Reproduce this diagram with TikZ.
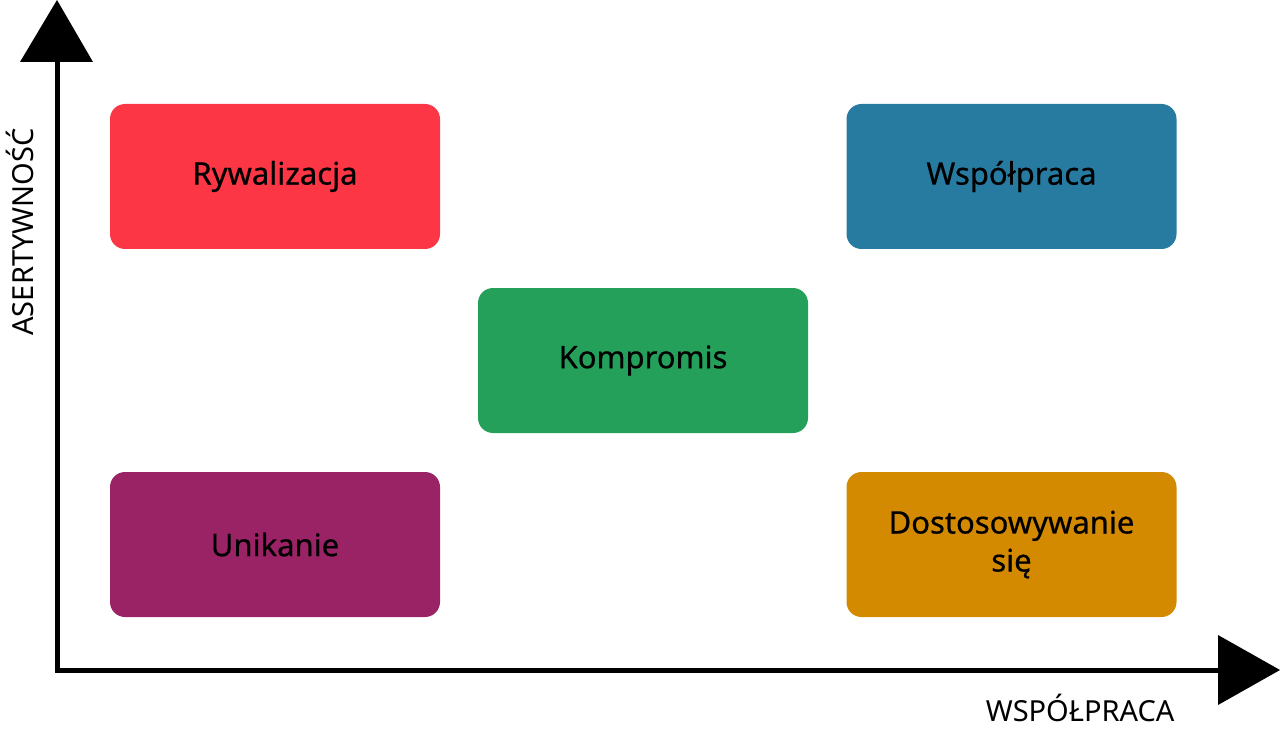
\documentclass[tikz,border=0pt]{standalone}
\usepackage{fontspec}
\setmainfont{Noto Sans}
\begin{document}
\begin{tikzpicture}[x=1pt,y=-1pt,
 box/.style={rounded corners=15pt,inner sep=0pt,minimum width=330pt,minimum height=145pt,align=center,font=\fontsize{31}{38}\selectfont\addfontfeature{FakeBold=0.6}},
 ax/.style={line width=5pt},
 lab/.style={font=\fontsize{29}{34}\selectfont\bfseries}]
\useasboundingbox (0,0) rectangle (1280,730);
\coordinate (o) at (57,670);
\coordinate (yt) at (57,55);
\coordinate (xt) at (1225,670);
\draw[ax] (o) -- (yt);
\draw[ax] (54.5,670) -- (xt);
\fill (20,62) -- (57,0) -- (93,62) -- cycle;
\fill (1218,635) -- (1280,670) -- (1218,705) -- cycle;
\node[box,fill={rgb,255:red,252;green,54;blue,68}] (r) at (275,176.5) {Rywalizacja};
\node[box,fill={rgb,255:red,39;green,123;blue,160}] (w) at (1011.5,176.5) {Współpraca};
\node[box,fill={rgb,255:red,37;green,160;blue,90}] (k) at (643,360.5) {Kompromis};
\node[box,fill={rgb,255:red,154;green,35;blue,102}] (u) at (275,544.5) {Unikanie};
\node[box,fill={rgb,255:red,212;green,138;blue,0}] (d) at (1011.5,544.5) {Dostosowywanie\\się};
\node[lab,anchor=east] (xl) at (1178,708) {WSPÓŁPRACA};
\node[lab,rotate=90] (yl) at (20,232) {ASERTYWNOŚĆ};
\end{tikzpicture}
\end{document}
